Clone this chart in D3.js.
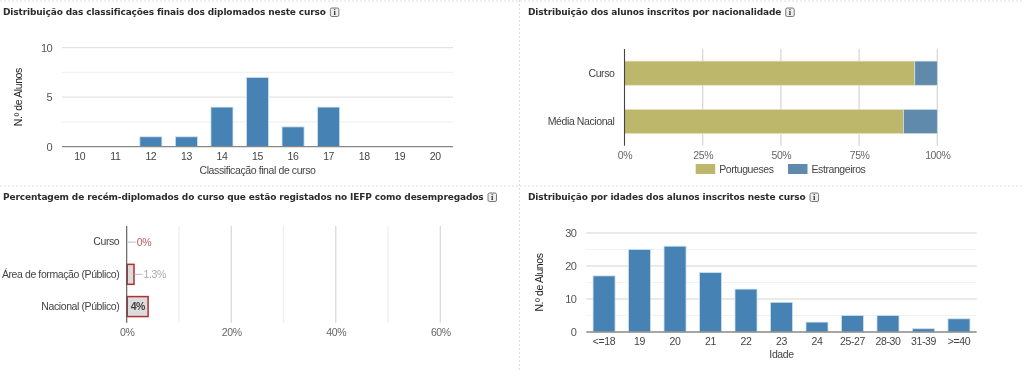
<!DOCTYPE html>
<html><head><meta charset="utf-8">
<script src="https://cdn.jsdelivr.net/npm/d3@7"></script>
<style>
html,body{margin:0;padding:0;background:#fff;overflow:hidden}
svg{display:block;filter:blur(.3px)}
.t{font:bold 9px "DejaVu Sans",Verdana,sans-serif;fill:#2b2b2b;letter-spacing:-.13px}
.a{font:10.5px "Liberation Sans",Arial,sans-serif;letter-spacing:-.4px}
</style></head><body><svg id="c" width="1024" height="376"></svg>
<script>
const gradeCats=["10","11","12","13","14","15","16","17","18","19","20"];
const gradeVals=[0,0,1,1,4,7,2,4,0,0,0];
const ageCats=["<=18","19","20","21","22","23","24","25-27","28-30","31-39",">=40"];
const ageVals=[17,25,26,18,13,9,3,5,5,1,4];
const natCats=["Curso","Média Nacional"];
const natPt=[92.8,89.2];
const natEs=[7.2,10.8];
const natNames=["Portugueses","Estrangeiros"];
const unempCats=["Curso","Área de formação (Público)","Nacional (Público)"];
const unempVals=[0,1.3,4];
const unempLabels=["0%","1.3%","4%"];
const titles=[
 "Distribuição das classificações finais dos diplomados neste curso",
 "Distribuição dos alunos inscritos por nacionalidade",
 "Percentagem de recém-diplomados do curso que estão registados no IEFP como desempregados",
 "Distribuição por idades dos alunos inscritos neste curso"];

const svg=d3.select("#c");

// separators
[[0,1,1024,1],[0,186,1024,186],[519.5,0,519.5,372]].forEach(s=>{
 svg.append("line").attr("x1",s[0]).attr("y1",s[1]).attr("x2",s[2]).attr("y2",s[3])
  .attr("stroke","#ddd").attr("stroke-dasharray","2,2");
});

// titles + info icon
function title(txt,x,y){
 const t=svg.append("text").attr("class","t").attr("x",x).attr("y",y).text(txt);
 const w=t.node().getComputedTextLength();
 const g=svg.append("g").attr("transform",`translate(${x+w+4},${y-7.5})`);
 g.append("rect").attr("x",.5).attr("y",.5).attr("width",8.5).attr("height",8.5).attr("rx",1.5).attr("fill","#eee").attr("stroke","#777");
 g.append("text").attr("x",4.75).attr("y",7.8).attr("text-anchor","middle").attr("font-family","Liberation Serif").attr("font-weight","bold").attr("font-size",8.5).attr("fill","#333").text("i");
}
title(titles[0],3,15);title(titles[1],528,15);title(titles[2],3,200);title(titles[3],528,200);

function styleAxis(g,color){
 g.selectAll(".domain").remove();
 g.selectAll(".tick line").remove();
 g.selectAll("text").attr("class","a").attr("fill",color);
}

function columns(cats,vals,max,major,minor,x0,x1,y0,y1,xTitle,yTitleX,xTitleY){
 const x=d3.scaleBand().domain(cats).range([x0,x1]);
 const y=d3.scaleLinear().domain([0,max]).range([y0,y1]);
 const g=svg.append("g");
 g.selectAll(".mn").data(d3.range(minor,max,major)).join("line")
  .attr("x1",x0).attr("x2",x1).attr("y1",d=>y(d)).attr("y2",d=>y(d)).attr("stroke","#f2f2f2").attr("stroke-width",1.2);
 g.selectAll(".mj").data(d3.range(major,max+1,major)).join("line")
  .attr("x1",x0).attr("x2",x1).attr("y1",d=>y(d)).attr("y2",d=>y(d)).attr("stroke","#e3e3e3").attr("stroke-width",1.3);
 g.selectAll(".b").data(cats).join("rect")
  .attr("x",d=>x(d)+x.bandwidth()*.19).attr("width",x.bandwidth()*.62)
  .attr("y",(d,i)=>y(vals[i])).attr("height",(d,i)=>y0-y(vals[i]))
  .attr("fill","#4682b4").attr("stroke","#cfe0ee").attr("stroke-width",.8);
 g.append("line").attr("x1",x0).attr("x2",x1).attr("y1",y0).attr("y2",y0).attr("stroke","#888").attr("stroke-width",1.3);
 svg.append("g").attr("transform",`translate(${x0},0)`)
  .call(d3.axisLeft(y).tickValues(d3.range(0,max+1,major)).tickSize(0).tickPadding(10)).call(styleAxis,"#555")
  .selectAll("text").style("font-size","11px").style("letter-spacing","-.6px");
 svg.append("g").attr("transform",`translate(0,${y0})`)
  .call(d3.axisBottom(x).tickSize(0).tickPadding(6)).call(styleAxis,"#444");
 svg.append("text").attr("class","a").attr("x",(x0+x1)/2).attr("y",xTitleY).attr("text-anchor","middle").attr("fill","#444").text(xTitle);
 svg.append("text").attr("class","a").attr("transform",`translate(${yTitleX},${(y0+y1)/2}) rotate(-90)`).attr("text-anchor","middle").attr("fill","#222").text("N.º de Alunos");
}
columns(gradeCats,gradeVals,10,5,2.5,62,453,146.7,47.7,"Classificação final de curso",22,173.5);
columns(ageCats,ageVals,30,10,5,586.3,976.7,332,233,"Idade",543,358);

// nationality stacked
(function(){
 const x=d3.scaleLinear().domain([0,100]).range([624.5,937.3]);
 const y=d3.scaleBand().domain(natCats).range([49,145.7]).paddingInner(.5).paddingOuter(.25);
 const ticks=[0,25,50,75,100];
 svg.selectAll(".ng").data(ticks.slice(1)).join("line")
  .attr("x1",d=>x(d)).attr("x2",d=>x(d)).attr("y1",49).attr("y2",145.7).attr("stroke","#d4d4d4").attr("stroke-width",1.2);
 svg.selectAll(".np").data(natCats).join("rect")
  .attr("x",x(0)).attr("width",(d,i)=>x(natPt[i])-x(0)).attr("y",d=>y(d)).attr("height",y.bandwidth())
  .attr("fill","#bdb76b").attr("stroke","#e6e3c0").attr("stroke-width",.7);
 svg.selectAll(".ne").data(natCats).join("rect")
  .attr("x",(d,i)=>x(natPt[i])).attr("width",(d,i)=>x(natPt[i]+natEs[i])-x(natPt[i])).attr("y",d=>y(d)).attr("height",y.bandwidth())
  .attr("fill","#5f8aab").attr("stroke","#d5e1ea").attr("stroke-width",.7);
 svg.append("line").attr("x1",x(0)).attr("x2",x(0)).attr("y1",49).attr("y2",145.7).attr("stroke","#444").attr("stroke-width",1.1);
 svg.append("g").attr("transform","translate(614.5,0)").call(d3.axisLeft(y).tickSize(0).tickPadding(0)).call(styleAxis,"#444");
 svg.append("g").attr("transform","translate(0,146)").call(d3.axisBottom(x).tickValues(ticks).tickFormat(d=>d+"%").tickSize(0).tickPadding(6)).call(styleAxis,"#666");
 const lx=[695.7,788],cols=["#bdb76b","#5f8aab"];
 natNames.forEach((n,i)=>{
  svg.append("rect").attr("x",lx[i]).attr("y",164).attr("width",19.5).attr("height",10).attr("fill",cols[i]);
  svg.append("text").attr("class","a").attr("x",lx[i]+23.5).attr("y",172.8).attr("fill","#444").style("letter-spacing","-.42px").text(n);
 });
})();

// unemployment
(function(){
 const x=d3.scaleLinear().domain([0,60]).range([126.7,440.3]);
 const y=d3.scaleBand().domain(unempCats).range([226,322.7]);
 const t=226,b=322.7;
 svg.selectAll(".ug").data([10,30,50]).join("line").attr("x1",d=>x(d)).attr("x2",d=>x(d)).attr("y1",t).attr("y2",b).attr("stroke","#eee").attr("stroke-width",1.2);
 svg.selectAll(".uj").data([20,40,60]).join("line").attr("x1",d=>x(d)).attr("x2",d=>x(d)).attr("y1",t).attr("y2",b).attr("stroke","#d6d6d6").attr("stroke-width",1.2);
 const bh=y.bandwidth()*.62;
 svg.selectAll(".ub").data(unempCats).join("rect")
  .attr("x",x(0)+.5).attr("width",(d,i)=>Math.max(0,x(unempVals[i])-x(0)))
  .attr("y",d=>y(d)+(y.bandwidth()-bh)/2).attr("height",bh)
  .attr("fill","#dcdcdc").attr("stroke",(d,i)=>unempVals[i]>0?"#b03035":"none").attr("stroke-width",1.5);
 const lblCol=["#b45a5a","#aaa","#444"];
 unempCats.forEach((c,i)=>{
  const cy=y(c)+y.bandwidth()/2;
  if(i<2){
   const e=x(unempVals[i])+1;
   svg.append("line").attr("x1",e).attr("x2",e+8).attr("y1",cy).attr("y2",cy).attr("stroke","#bbb").attr("stroke-width",1);
   svg.append("text").attr("class","a").attr("x",e+9).attr("y",cy+3.5).attr("fill",lblCol[i]).text(unempLabels[i]);
  } else {
   svg.append("text").attr("class","a").attr("x",x(unempVals[i]/2)+.5).attr("y",cy+3.4).attr("text-anchor","middle").attr("fill",lblCol[i]).style("font-weight","bold").style("letter-spacing","-.6px").text(unempLabels[i]);
  }
 });
 svg.append("line").attr("x1",x(0)).attr("x2",x(0)).attr("y1",t).attr("y2",b).attr("stroke","#555").attr("stroke-width",1.1);
 svg.append("g").attr("transform","translate(119.3,0)").call(d3.axisLeft(y).tickSize(0).tickPadding(0)).call(styleAxis,"#444");
 svg.append("g").attr("transform","translate(0,322)").call(d3.axisBottom(x).tickValues([0,20,40,60]).tickFormat(d=>d+"%").tickSize(0).tickPadding(7)).call(styleAxis,"#666");
})();
</script></body></html>
